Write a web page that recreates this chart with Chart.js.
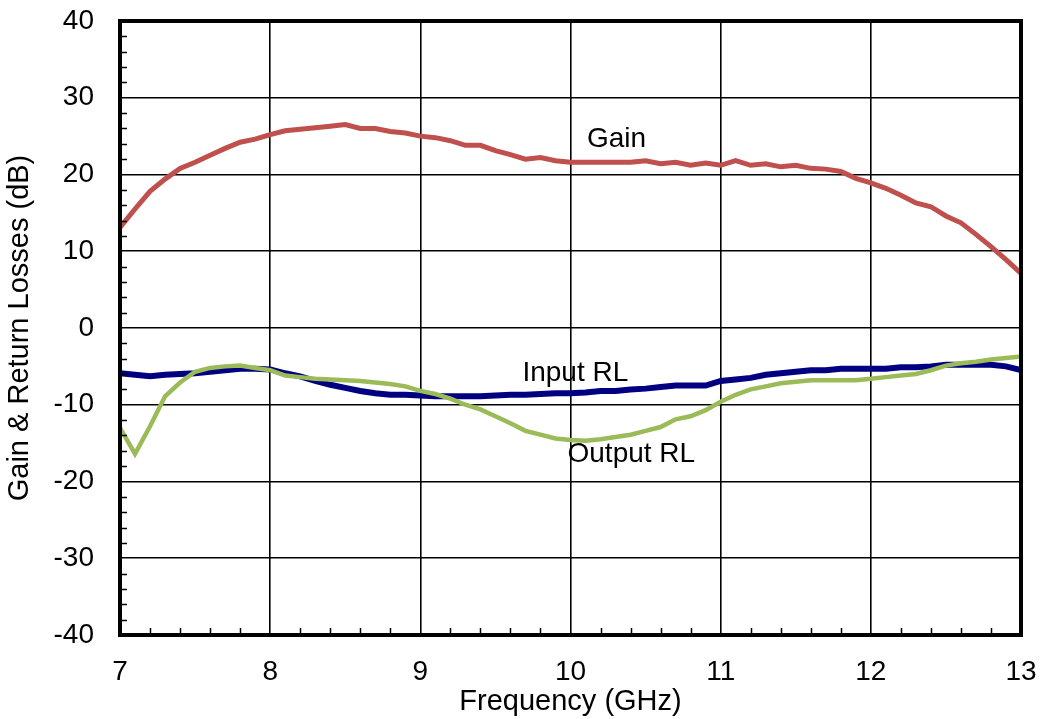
<!DOCTYPE html>
<html>
<head>
<meta charset="utf-8">
<script src="https://cdn.jsdelivr.net/npm/chart.js@4"></script>
<style>
  html, body { margin: 0; padding: 0; background: #fff; }
  canvas { display: block; }
</style>
</head>
<body>
<canvas id="c" width="1042" height="719"></canvas>
<script>
const freqGHz = [7.0,7.1,7.2,7.3,7.4,7.5,7.6,7.7,7.8,7.9,
  8.0,8.1,8.2,8.3,8.4,8.5,8.6,8.7,8.8,8.9,
  9.0,9.1,9.2,9.3,9.4,9.5,9.6,9.7,9.8,9.9,
  10.0,10.1,10.2,10.3,10.4,10.5,10.6,10.7,10.8,10.9,
  11.0,11.1,11.2,11.3,11.4,11.5,11.6,11.7,11.8,11.9,
  12.0,12.1,12.2,12.3,12.4,12.5,12.6,12.7,12.8,12.9,13.0];

const gainDB = [13.1,15.5,17.8,19.4,20.8,21.6,22.5,23.4,24.2,24.6,
  25.2,25.7,25.9,26.1,26.3,26.5,26.0,26.0,25.6,25.4,
  25.0,24.8,24.4,23.8,23.8,23.1,22.6,22.0,22.2,21.8,
  21.6,21.6,21.6,21.6,21.6,21.8,21.4,21.6,21.2,21.5,
  21.2,21.8,21.2,21.4,21.0,21.2,20.8,20.7,20.4,19.5,
  18.9,18.2,17.3,16.3,15.8,14.6,13.7,12.2,10.6,8.9,7.1];

const inputRL = [-5.9,-6.1,-6.3,-6.1,-6.0,-5.9,-5.7,-5.5,-5.3,-5.3,
  -5.4,-5.9,-6.3,-6.9,-7.4,-7.8,-8.2,-8.5,-8.7,-8.7,
  -8.8,-8.9,-8.9,-8.9,-8.9,-8.8,-8.7,-8.7,-8.6,-8.5,
  -8.5,-8.4,-8.2,-8.2,-8.0,-7.9,-7.7,-7.5,-7.5,-7.5,
  -6.9,-6.7,-6.5,-6.1,-5.9,-5.7,-5.5,-5.5,-5.3,-5.3,
  -5.3,-5.3,-5.1,-5.1,-5.0,-4.8,-4.8,-4.8,-4.8,-5.0,-5.5];

const outputRL = [-13.0,-16.4,-12.8,-8.9,-7.1,-5.7,-5.2,-5.0,-4.9,-5.2,
  -5.5,-6.2,-6.4,-6.6,-6.7,-6.8,-6.9,-7.1,-7.3,-7.6,
  -8.2,-8.6,-9.2,-10.0,-10.6,-11.5,-12.4,-13.4,-13.9,-14.4,
  -14.6,-14.7,-14.5,-14.2,-13.9,-13.4,-12.9,-11.9,-11.5,-10.7,
  -9.6,-8.7,-8.0,-7.6,-7.2,-7.0,-6.8,-6.8,-6.8,-6.8,
  -6.6,-6.4,-6.2,-6.0,-5.5,-4.9,-4.6,-4.4,-4.1,-3.9,-3.7];

const seriesNames = ['Gain', 'Input RL', 'Output RL'];
// label anchors (frequency GHz, dB)
const labelX = [10.11, 9.68, 9.98];
const labelY = [23.6, -6.9, -17.5];

const xTicksMin = 7, xTicksMax = 13;
const yTicksMin = -40, yTicksMax = 40;

const FONT = '"Liberation Sans", Arial, sans-serif';

function toPts(xs, ys) { return xs.map((x, i) => ({ x: x, y: ys[i] })); }

const framePlugin = {
  id: 'frame',
  afterDraw(chart) {
    const { ctx, chartArea: a, scales } = chart;
    ctx.save();
    // minor ticks (inward) on left and bottom axes
    ctx.strokeStyle = '#000';
    ctx.lineWidth = 1.5;
    ctx.beginPath();
    for (let v = yTicksMin; v <= yTicksMax; v += 2) {
      if (v % 10 === 0) continue;
      const py = Math.round(scales.y.getPixelForValue(v)) + 0.5;
      ctx.moveTo(a.left, py); ctx.lineTo(a.left + 7, py);
    }
    for (let k = 0; k <= (xTicksMax - xTicksMin) * 5; k++) {
      if (k % 5 === 0) continue;
      const px = Math.round(scales.x.getPixelForValue(xTicksMin + k * 0.2)) + 0.5;
      ctx.moveTo(px, a.bottom); ctx.lineTo(px, a.bottom - 7);
    }
    ctx.stroke();
    // thick frame
    ctx.lineWidth = 4;
    ctx.strokeRect(a.left, a.top, a.right - a.left, a.bottom - a.top);
    // series labels
    ctx.fillStyle = '#000';
    ctx.font = '28px ' + FONT;
    ctx.textAlign = 'left';
    ctx.textBaseline = 'alphabetic';
    seriesNames.forEach((n, i) => {
      ctx.fillText(n, scales.x.getPixelForValue(labelX[i]), scales.y.getPixelForValue(labelY[i]));
    });
    ctx.restore();
  }
};

new Chart(document.getElementById('c'), {
  type: 'line',
  data: {
    datasets: [
      { label: 'Gain', data: toPts(freqGHz, gainDB), borderColor: '#C0504D', borderWidth: 5, pointRadius: 0, tension: 0, fill: false },
      { label: 'Output RL', data: toPts(freqGHz, outputRL), borderColor: '#9BBB59', borderWidth: 4.5, pointRadius: 0, tension: 0, fill: false },
      { label: 'Input RL', data: toPts(freqGHz, inputRL), borderColor: '#000080', borderWidth: 6, pointRadius: 0, tension: 0, fill: false }
    ]
  },
  options: {
    responsive: false,
    animation: false,
    devicePixelRatio: 1,
    layout: { padding: { top: 21, right: 21, left: 0, bottom: 0 } },
    plugins: { legend: { display: false }, tooltip: { enabled: false } },
    scales: {
      x: {
        type: 'linear',
        min: xTicksMin, max: xTicksMax,
        ticks: { stepSize: 1, padding: 20, color: '#000', maxRotation: 0, font: { family: FONT, size: 28 } },
        grid: { color: '#000', lineWidth: 1.6, drawTicks: false },
        border: { display: false },
        title: { display: true, text: 'Frequency (GHz)', color: '#000', font: { family: FONT, size: 29 }, padding: 0 },
        afterFit(s) { s.height = 84; s.paddingLeft = 0; s.paddingRight = 0; }
      },
      y: {
        type: 'linear',
        min: yTicksMin, max: yTicksMax,
        ticks: { stepSize: 10, padding: 26, color: '#000', font: { family: FONT, size: 28 } },
        grid: { color: '#000', lineWidth: 1.6, drawTicks: false },
        border: { display: false },
        title: { display: true, text: 'Gain & Return Losses (dB)', color: '#000', font: { family: FONT, size: 29 }, padding: { top: 3, bottom: 0 } },
        afterFit(s) { s.width = 120; s.paddingTop = 0; s.paddingBottom = 0; }
      }
    }
  },
  plugins: [framePlugin]
});
</script>
</body>
</html>
